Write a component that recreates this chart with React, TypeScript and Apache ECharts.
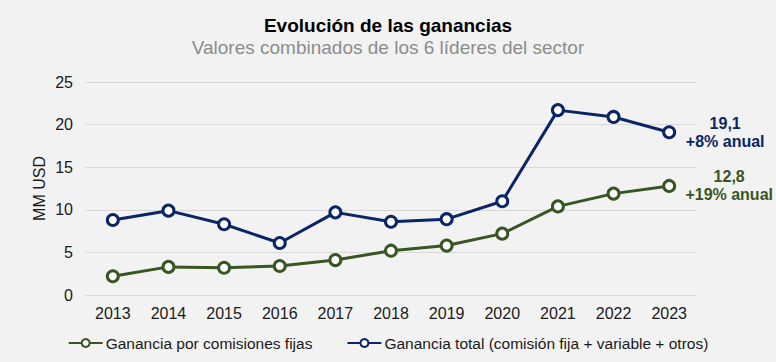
import React, { useEffect, useRef } from "react";
import * as echarts from "echarts";

const years = ["2013", "2014", "2015", "2016", "2017", "2018", "2019", "2020", "2021", "2022", "2023"];
const fixedFees = [2.2, 3.3, 3.2, 3.4, 4.1, 5.2, 5.8, 7.2, 10.4, 11.9, 12.8];
const totalProfit = [8.8, 9.9, 8.3, 6.1, 9.7, 8.6, 8.9, 11.0, 21.7, 20.9, 19.1];
const fixedLabel = ["12,8", "+19% anual"];
const totalLabel = ["19,1", "+8% anual"];
const seriesNames = ["Ganancia por comisiones fijas", "Ganancia total (comisión fija + variable + otros)"];

const GREEN = "#375623";
const BLUE = "#0b2565";
const FONT = "'Liberation Sans', Arial, sans-serif";

function withEndLabel(values: number[], lines: string[], color: string, dist: number) {
  return values.map((v, i) =>
    i === values.length - 1
      ? {
          value: v,
          label: {
            show: true,
            position: "right",
            distance: dist,
            align: "center",
            verticalAlign: "middle",
            formatter: lines.join("\n"),
            color,
            fontWeight: "bold",
            fontSize: 16,
            lineHeight: 18,
            fontFamily: FONT,
          },
        }
      : v
  );
}

export default function App() {
  const ref = useRef<HTMLDivElement>(null);
  useEffect(() => {
    if (!ref.current) return;
    document.body.style.margin = "0";
    const chart = echarts.init(ref.current, undefined, { renderer: "svg" });
    chart.setOption({
      animation: false,
      backgroundColor: "#f2f2f2",
      textStyle: { fontFamily: FONT },
      title: {
        text: "Evolución de las ganancias",
        subtext: "Valores combinados de los 6 líderes del sector",
        left: "center",
        top: 11,
        itemGap: 3,
        textStyle: { fontSize: 19, fontWeight: "bold", color: "#000", fontFamily: FONT },
        subtextStyle: { fontSize: 19, color: "#8c8c8c", fontFamily: FONT },
      },
      legend: {
        bottom: 6,
        left: "center",
        itemWidth: 34,
        itemHeight: 10,
        itemGap: 34,
        textStyle: { fontSize: 15.5, color: "#1a1a1a", fontFamily: FONT, padding: [0, 0, 0, -2] },
        data: seriesNames,
      },
      grid: { left: 85, right: 79, top: 82, bottom: 67 },
      xAxis: {
        type: "category",
        data: years,
        boundaryGap: true,
        axisLine: { show: false },
        axisTick: { show: false },
        axisLabel: { fontSize: 16, color: "#1a1a1a", margin: 10 },
      },
      yAxis: {
        type: "value",
        min: 0,
        max: 25,
        interval: 5,
        name: "MM USD",
        nameLocation: "middle",
        nameGap: 38,
        nameMoveOverlap: false,
        nameTextStyle: { fontSize: 16, color: "#1a1a1a" },
        axisLine: { show: false },
        axisTick: { show: false },
        axisLabel: { fontSize: 16, color: "#1a1a1a", margin: 12 },
        splitLine: { lineStyle: { color: "#d9d9d9", width: 1 } },
      },
      series: [
        {
          name: seriesNames[0],
          type: "line",
          data: withEndLabel(fixedFees, fixedLabel, GREEN, 53),
          symbol: "circle",
          symbolSize: 11,
          lineStyle: { color: GREEN, width: 3 },
          itemStyle: { color: "#ffffff", borderColor: GREEN, borderWidth: 3 },
          color: GREEN,
        },
        {
          name: seriesNames[1],
          type: "line",
          data: withEndLabel(totalProfit, totalLabel, BLUE, 49),
          symbol: "circle",
          symbolSize: 11,
          lineStyle: { color: BLUE, width: 3 },
          itemStyle: { color: "#ffffff", borderColor: BLUE, borderWidth: 3 },
          color: BLUE,
        },
      ],
    });
    return () => chart.dispose();
  }, []);
  return <div ref={ref} style={{ width: 776, height: 362 }} />;
}
